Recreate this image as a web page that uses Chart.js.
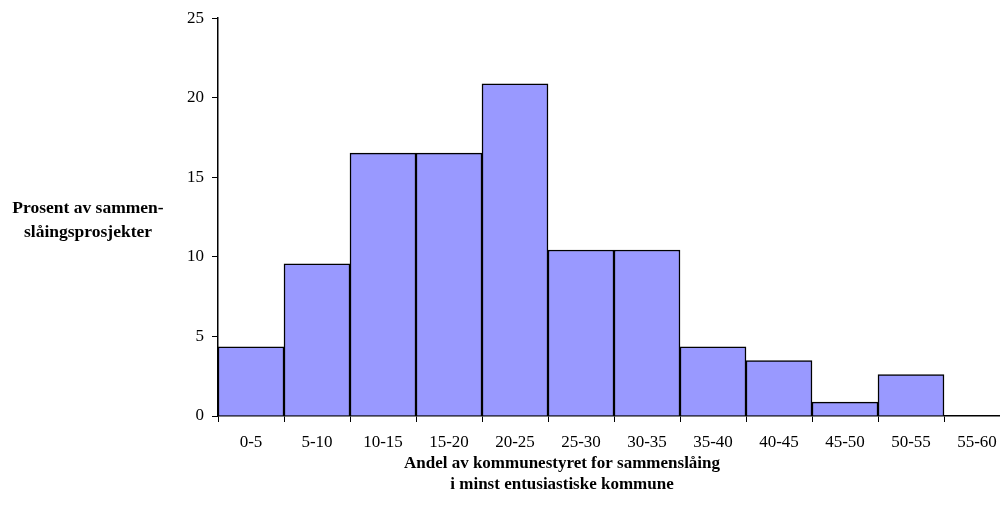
<!DOCTYPE html>
<html><head><meta charset="utf-8">
<script src="https://cdn.jsdelivr.net/npm/chart.js@4"></script>
<style>
html,body{margin:0;padding:0;background:#fff;overflow:hidden;}
#wrap{width:1000px;height:519px;overflow:hidden;position:relative;}
#box{width:1010px;height:519px;position:absolute;left:0;top:0;}
</style></head><body>
<div id="wrap"><div id="box"><canvas id="c"></canvas></div></div>
<script>
const categories = ['0-5','5-10','10-15','15-20','20-25','25-30','30-35','35-40','40-45','45-50','50-55','55-60'];
const values = [4.35, 9.57, 16.52, 16.52, 20.87, 10.43, 10.43, 4.35, 3.48, 0.87, 2.61, 0];
const yTitle = ['Prosent av sammen-', 'slåingsprosjekter'];
const xTitle = ['Andel av kommunestyret for sammenslåing', 'i minst entusiastiske kommune'];
const yTicks = [0, 5, 10, 15, 20, 25];

const FONT = "'Liberation Serif', 'Times New Roman', serif";

const titles = {
  id: 'titles',
  afterDraw(chart) {
    const ctx = chart.ctx;
    ctx.save();
    ctx.fillStyle = '#000';
    ctx.textAlign = 'center';
    ctx.textBaseline = 'middle';
    ctx.font = 'bold 17.5px ' + FONT;
    yTitle.forEach((t, i) => ctx.fillText(t, 88, 208 + i * 24));
    ctx.font = 'bold 17px ' + FONT;
    xTitle.forEach((t, i) => ctx.fillText(t, 562, 464 + i * 21));
    ctx.restore();
  }
};

new Chart(document.getElementById('c'), {
  type: 'bar',
  data: {
    labels: categories,
    datasets: [{
      data: values,
      backgroundColor: '#9999FF',
      borderColor: '#000',
      borderWidth: 1.5,
      barPercentage: 1,
      categoryPercentage: 1
    }]
  },
  options: {
    responsive: true,
    maintainAspectRatio: false,
    animation: false,
    layout: { padding: { top: 18, right: 0, left: 0, bottom: 0 } },
    plugins: { legend: { display: false }, tooltip: { enabled: false } },
    scales: {
      x: {
        grid: { drawOnChartArea: false, drawTicks: true, tickLength: 6, color: '#000', offset: true },
        border: { display: true, color: '#000', width: 1.5 },
        ticks: { color: '#000', font: { family: FONT, size: 17 }, padding: 10, maxRotation: 0, autoSkip: false },
        afterFit(s) { s.height = 103; }
      },
      y: {
        min: 0, max: 25,
        afterBuildTicks(s) { s.ticks = yTicks.map(v => ({ value: v })); },
        grid: { drawOnChartArea: false, drawTicks: true, tickLength: 6, color: '#000' },
        border: { display: true, color: '#000', width: 1.5 },
        ticks: { color: '#000', font: { family: FONT, size: 17 }, padding: 8 },
        afterFit(s) { s.width = 218; }
      }
    }
  },
  plugins: [titles]
});
</script>
</body></html>
